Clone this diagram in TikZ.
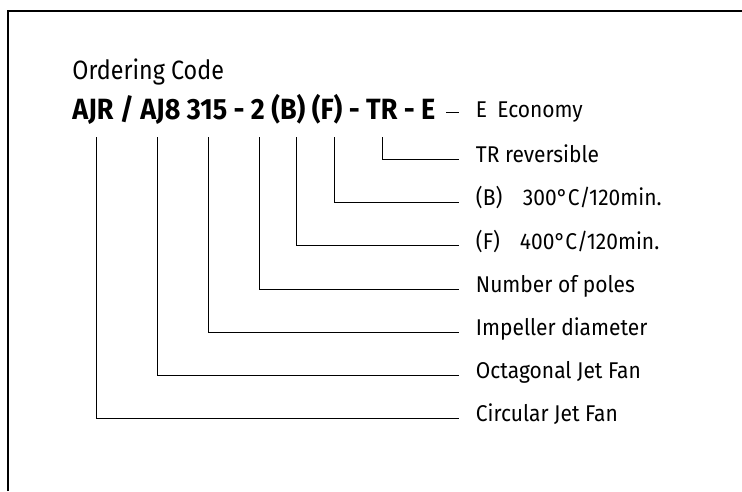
\documentclass[tikz,border=0pt]{standalone}
\usepackage{fontspec}
\setmainfont{Fira Sans}[FakeStretch=0.92]
\newfontfamily\titlefont{Fira Sans}[FakeStretch=0.88]
\begin{document}
\begin{tikzpicture}[x=1pt,y=-1pt,line width=0.9pt]
\tikzstyle{every node}=[inner sep=0pt,font=\fontsize{22.8}{23}\selectfont];
\tikzstyle{desc}=[anchor=west,inner xsep=16.5pt,text height=6.4pt,text depth=0pt];
\useasboundingbox (0,0) rectangle (742,491);
\draw[line width=1.4pt] (8,491) -- (8,11) -- (742,11);

\node[anchor=base west,font=\fontsize{26.5}{27}\titlefont](title) at(72,79){Ordering Code};
\node[anchor=base west,font=\fontsize{29.3}{30}\selectfont\bfseries](code) at(72,119){AJR / AJ8 315 - 2 (B) (F) - TR - E};

% tops of the connectors, under the code letters
\coordinate (t1) at(96.7,137);
\coordinate (t2) at(157.3,137);
\coordinate (t3) at(208.3,137);
\coordinate (t4) at(259,137);
\coordinate (t5) at(296,137);
\coordinate (t6) at(334,137);
\coordinate (t7) at(382.7,137);
\coordinate (dE) at(446,112.2);

\node[desc,text height=11pt](eco) at(459,112.2){\makebox[21.5pt][l]{E}Economy};
\node[desc](rev) at(459,159.5){TR reversible};
\node[desc](fb) at(459,202.7){\makebox[47pt][l]{(B)}300°C/120min.};
\node[desc](ff) at(459,245.9){\makebox[44pt][l]{(F)}400°C/120min.};
\node[desc](pol) at(459,289.1){Number of poles};
\node[desc](imp) at(459,332.3){Impeller diameter};
\node[desc](oct) at(459,375.5){Octagonal Jet Fan};
\node[desc](cir) at(459,418.7){Circular Jet Fan};

\draw (dE)-- (eco.west);
\draw (t7)|- (rev.west);
\draw (t6)|- (fb.west);
\draw (t5)|- (ff.west);
\draw (t4)|- (pol.west);
\draw (t3)|- (imp.west);
\draw (t2)|- (oct.west);
\draw (t1)|- (cir.west);

\end{tikzpicture}
\end{document}
